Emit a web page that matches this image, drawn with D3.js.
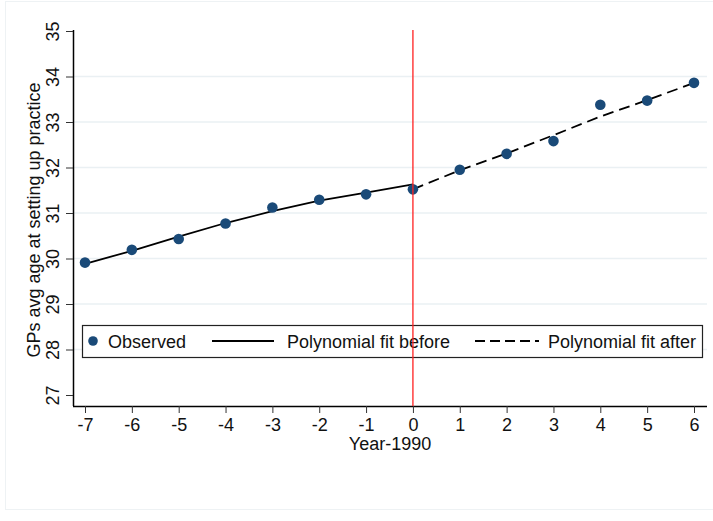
<!DOCTYPE html>
<html>
<head>
<meta charset="utf-8">
<script src="https://cdn.jsdelivr.net/npm/d3@7"></script>
<style>
  body { margin: 0; background: #fff; }
  svg text { font-family: Arial, "Liberation Sans", sans-serif; fill: #111; }
</style>
</head>
<body>
<div id="chart"></div>
<script>
// data
let years = [-7, -6, -5, -4, -3, -2, -1, 0, 1, 2, 3, 4, 5, 6];
let observed = [29.91, 30.19, 30.43, 30.77, 31.12, 31.29, 31.41, 31.52, 31.95, 32.30, 32.58, 33.38, 33.47, 33.86];
let yearsBefore = [-7, -6, -5, -4, -3, -2, -1, 0];
let fitBefore = [29.88, 30.17, 30.48, 30.78, 31.04, 31.27, 31.45, 31.63];
let yearsAfter = [0, 1, 2, 3, 4, 5, 6];
let fitAfter = [31.52, 31.94, 32.31, 32.71, 33.12, 33.48, 33.86];
let yTicks = [27, 28, 29, 30, 31, 32, 33, 34, 35];
let gridTicks = [28, 29, 30, 31, 32, 33, 34];

let W = 713, H = 521;

let svg = d3.select("#chart").append("svg")
    .attr("width", W)
    .attr("height", H);

// faint outer frame of the graph region
svg.append("rect")
    .attr("x", 5.5).attr("y", 1.5)
    .attr("width", W - 4).attr("height", 508)
    .attr("fill", "none")
    .attr("stroke", "#eef2f4");

let x = d3.scaleLinear().domain([-7, 6]).range([85, 694]);
let y = d3.scaleLinear().domain([27, 35]).range([395, 31]);

let plotLeft = 73, plotRight = 707, plotBottom = 406, plotTop = 30;

// gridlines
svg.selectAll(".grid")
    .data(gridTicks)
    .enter().append("line")
    .attr("x1", plotLeft).attr("x2", plotRight)
    .attr("y1", d => y(d)).attr("y2", d => y(d))
    .attr("stroke", "#eaf0f3")
    .attr("stroke-width", 1.5);

// y axis
let yAxis = svg.append("g")
    .attr("transform", "translate(" + plotLeft + ",0)")
    .call(d3.axisLeft(y).tickValues(yTicks).tickSize(7).tickSizeOuter(0));
yAxis.select(".domain").attr("d", "M0.5," + plotTop + "V" + plotBottom).attr("stroke", "#000").attr("stroke-width", 1.5);
yAxis.selectAll(".tick line").attr("stroke", "#333");
yAxis.selectAll(".tick text")
    .attr("font-size", 18)
    .attr("transform", "rotate(-90)")
    .attr("x", 0).attr("y", -14)
    .attr("dy", 0)
    .attr("text-anchor", "middle")
    .style("font-family", "Arial, 'Liberation Sans', sans-serif");

// x axis
let xAxis = svg.append("g")
    .attr("transform", "translate(0," + plotBottom + ")")
    .call(d3.axisBottom(x).tickValues(years).tickSize(7).tickSizeOuter(0).tickFormat(d3.format("d")));
xAxis.select(".domain").attr("d", "M" + plotLeft + ",0.5H" + plotRight).attr("stroke", "#000").attr("stroke-width", 1.5);
xAxis.selectAll(".tick line").attr("stroke", "#333");
xAxis.selectAll(".tick text")
    .attr("font-size", 18)
    .attr("y", 12)
    .style("font-family", "Arial, 'Liberation Sans', sans-serif")
    .text(d => d < 0 ? "-" + Math.abs(d) : d);

// axis titles
svg.append("text")
    .attr("x", 390).attr("y", 450)
    .attr("text-anchor", "middle")
    .attr("font-size", 18)
    .text("Year-1990");

svg.append("text")
    .attr("transform", "translate(40," + ((plotTop + plotBottom) / 2 + 2) + ") rotate(-90)")
    .attr("text-anchor", "middle")
    .attr("font-size", 18)
    .text("GPs avg age at setting up practice");

// fitted lines
let lineBefore = d3.line()
    .x((d, i) => x(yearsBefore[i]))
    .y(d => y(d));
svg.append("path")
    .datum(fitBefore)
    .attr("d", lineBefore)
    .attr("fill", "none")
    .attr("stroke", "#000")
    .attr("stroke-width", 1.8);

let lineAfter = d3.line()
    .x((d, i) => x(yearsAfter[i]))
    .y(d => y(d));
svg.append("path")
    .datum(fitAfter)
    .attr("d", lineAfter)
    .attr("fill", "none")
    .attr("stroke", "#000")
    .attr("stroke-width", 1.8)
    .attr("stroke-dasharray", "11,6");

// observed points
svg.selectAll(".dot")
    .data(observed)
    .enter().append("circle")
    .attr("class", "dot")
    .attr("cx", (d, i) => x(years[i]))
    .attr("cy", d => y(d))
    .attr("r", 5.3)
    .attr("fill", "#1a4a78");

// legend
let lg = svg.append("g");
lg.append("rect")
    .attr("x", 82.5).attr("y", 325.5)
    .attr("width", 620).attr("height", 32)
    .attr("fill", "#fff")
    .attr("stroke", "#222")
    .attr("stroke-width", 1.2);
lg.append("circle").attr("cx", 93).attr("cy", 341).attr("r", 4.8).attr("fill", "#1a4a78");
lg.append("text").attr("x", 108).attr("y", 347.5).attr("font-size", 18).text("Observed");
lg.append("line").attr("x1", 212).attr("x2", 274).attr("y1", 341).attr("y2", 341)
    .attr("stroke", "#000").attr("stroke-width", 1.8);
lg.append("text").attr("x", 287).attr("y", 347.5).attr("font-size", 18).text("Polynomial fit before");
lg.append("line").attr("x1", 475).attr("x2", 539).attr("y1", 341).attr("y2", 341)
    .attr("stroke", "#000").attr("stroke-width", 1.8).attr("stroke-dasharray", "10,5");
lg.append("text").attr("x", 548).attr("y", 347.5).attr("font-size", 18).text("Polynomial fit after");

// vertical reference line at 0 (drawn over the legend)
svg.append("line")
    .attr("x1", x(0)).attr("x2", x(0))
    .attr("y1", plotTop).attr("y2", plotBottom)
    .attr("stroke", "#ff2020")
    .attr("stroke-width", 1.3);
</script>
</body>
</html>
